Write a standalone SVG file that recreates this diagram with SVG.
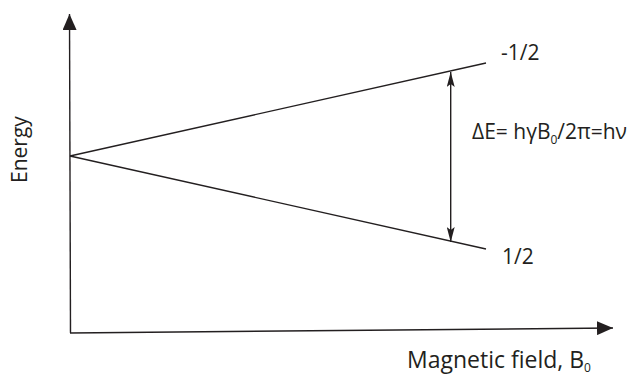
<svg xmlns="http://www.w3.org/2000/svg" width="627" height="376" viewBox="0 0 627 376">
<defs>
<style>
.ln{stroke:#231f20;stroke-width:1.4;fill:none}
.tx{font-family:"Open Sans","Liberation Sans",sans-serif;font-size:21px;fill:#231f20}
.big{font-size:23px}
.sub{font-size:12px}
</style>
<marker id="ah" viewBox="0 0 16 14" refX="16" refY="7" markerWidth="16" markerHeight="14" markerUnits="userSpaceOnUse" orient="auto-start-reverse">
<path d="M0,0 L16,7 L0,14 Z" fill="#231f20"/>
</marker>
<marker id="ahs" viewBox="0 0 15 8" refX="15" refY="4" markerWidth="15" markerHeight="8" markerUnits="userSpaceOnUse" orient="auto-start-reverse">
<path d="M0,0 L15,4 L0,8 L3,4 Z" fill="#231f20"/>
</marker>
</defs>
<rect width="627" height="376" fill="#fff"/>
<g id="axes">
<path class="ln" d="M70.5,333 L69.5,14" marker-end="url(#ah)"/>
<path class="ln" d="M70,333 L613,328" marker-end="url(#ah)"/>
</g>
<g id="levels">
<path class="ln" d="M70,156 L486,63"/>
<path class="ln" d="M70,156 L486,249"/>
</g>
<g id="connectors">
<path class="ln" d="M450.7,72 L450.7,242" marker-start="url(#ahs)" marker-end="url(#ahs)"/>
</g>
<g id="labels">
<text class="tx" x="501" y="60">-1/2</text>
<text class="tx" x="502" y="264">1/2</text>
<text class="tx" x="472" y="139">ΔE= hγB<tspan class="sub" dy="5">0</tspan><tspan dy="-5">/2π=hν</tspan></text>
<text class="tx" transform="translate(27,183) rotate(-90)">Energy</text>
<text class="tx big" x="407" y="368">Magnetic field, B<tspan class="sub" dy="4">0</tspan></text>
</g>
</svg>
